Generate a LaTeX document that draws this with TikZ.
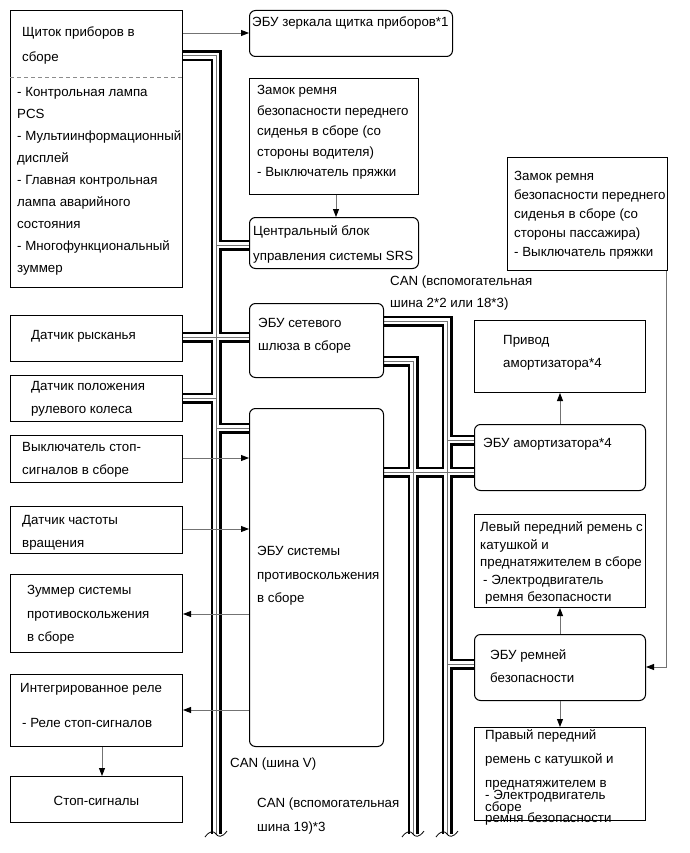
\documentclass[tikz,border=0pt]{standalone}
\usepackage{fontspec}
\setmainfont{Liberation Sans}
\usetikzlibrary{arrows.meta,backgrounds}
\newcommand\mystrut{\rule{0pt}{10.5pt}}
\newcommand\buspaths[1]{%
 \draw[#1] (shch.east |- 0,56) -- (216,56) -- (216,834);
 \draw[#1] (216,245) -- (srs.west |- 0,245);
 \draw[#1] (yaw.east |- 0,337) -- (gw.west |- 0,337);
 \draw[#1] (steer.east |- 0,398) -- (216,398);
 \draw[#1] (216,428) -- (abs.west |- 0,428);
 \draw[#1] (gw.east |- 0,321) -- (447,321) -- (447,834);
 \draw[#1] (447,440) -- (amort.west |- 0,440);
 \draw[#1] (447,664) -- (beltecu.west |- 0,664);
 \draw[#1] (gw.east |- 0,361) -- (413,361) -- (413,834);
 \draw[#1] (abs.east |- 0,472) -- (amort.west |- 0,472);
}
\newcommand\wavemark[1]{\draw[line width=0.8pt] (#1-11,837) .. controls (#1-6,830) and (#1-2,831) .. (#1,834) .. controls (#1+2,837) and (#1+6,838) .. (#1+11,831);}
\begin{document}
\begin{tikzpicture}[x=1pt,y=-1pt,
  box/.style={draw=black, line width=1pt, fill=white, anchor=north west, inner sep=0pt},
  rbox/.style={box, rounded corners=6pt},
  txt/.style={anchor=north west, inner sep=0pt, align=left, font=\fontsize{13.3}{#1}\selectfont},
  txt/.default=22,
  arr/.style={draw=black!55, line width=0.9pt, -{Triangle[length=8pt,width=6pt,color=black]}}
]
\useasboundingbox (0,0) rectangle (689,853);

% boxes
\node[box, minimum width=172pt, minimum height=277pt] (shch) at (10,10) {};
\node[rbox, minimum width=203pt, minimum height=46pt] (mirror) at (249,10) {};
\node[box, minimum width=169pt, minimum height=116pt] (buckD) at (249,78) {};
\node[rbox, minimum width=169pt, minimum height=51pt] (srs) at (249,217) {};
\node[box, minimum width=160pt, minimum height=113pt] (buckP) at (507,157) {};
\node[rbox, minimum width=134pt, minimum height=74pt] (gw) at (249,303) {};
\node[box, minimum width=171pt, minimum height=72pt] (privod) at (474,320) {};
\node[rbox, minimum width=171pt, minimum height=66pt] (amort) at (474,424) {};
\node[box, minimum width=171pt, minimum height=93pt] (lbelt) at (474,514) {};
\node[rbox, minimum width=171pt, minimum height=66pt] (beltecu) at (474,634) {};
\node[box, minimum width=171pt, minimum height=93pt] (rbelt) at (474,727) {};
\node[box, minimum width=172pt, minimum height=46pt] (yaw) at (10,315) {};
\node[box, minimum width=172pt, minimum height=46pt] (steer) at (10,375) {};
\node[box, minimum width=172pt, minimum height=47pt] (stopsw) at (10,435) {};
\node[box, minimum width=172pt, minimum height=47pt] (speed) at (10,506) {};
\node[box, minimum width=172pt, minimum height=78pt] (buzz) at (10,574) {};
\node[box, minimum width=172pt, minimum height=72pt] (relay) at (10,674) {};
\node[box, minimum width=172pt, minimum height=46pt] (stop) at (10,776) {};
\node[rbox, minimum width=134pt, minimum height=338pt] (abs) at (249,408) {};

\draw[black!45, dashed, dash pattern=on 4pt off 3pt, line width=0.8pt] (shch.west |- 0,77) -- (shch.east |- 0,77);

% bus
\begin{pgfonlayer}{background}
\fill[white] (0,0) rectangle (689,853);
\buspaths{black, line width=11pt, line join=miter}
\buspaths{white, line width=6.6pt, line join=miter}
\buspaths{black!55, line width=1pt, line join=miter}
\end{pgfonlayer}
\wavemark{216}
\wavemark{413}
\wavemark{447}

% arrows
\draw[arr] (shch.east |- 0,33) -- (mirror.west |- 0,33);
\draw[arr] (buckD.south -| 336,0) -- (srs.north -| 336,0);
\draw[arr] (amort.north -| 560,0) -- (privod.south -| 560,0);
\draw[arr] ([xshift=-2pt]buckP.south east) |- (beltecu.east |- 0,667);
\draw[arr] (beltecu.north -| 560,0) -- (lbelt.south -| 560,0);
\draw[arr] (beltecu.south -| 560,0) -- (rbelt.north -| 560,0);
\draw[arr] (stopsw.east |- 0,458) -- (abs.west |- 0,458);
\draw[arr] (speed.east |- 0,529) -- (abs.west |- 0,529);
\draw[arr] (abs.west |- 0,614) -- (buzz.east |- 0,614);
\draw[arr] (abs.west |- 0,710) -- (relay.east |- 0,710);
\draw[arr] (relay.south -| 102,0) -- (stop.north -| 102,0);

% texts
\node[txt=25] (tshch1) at (22,26) {\mystrut Щиток приборов в\\сборе};
\node[txt=22] (tshch2) at (17,86) {\mystrut - Контрольная лампа\\PCS\\- Мультиинформационный\\дисплей\\- Главная контрольная\\лампа аварийного\\состояния\\- Многофункциональный\\зуммер};
\node[txt] (tmirror) at (252,16) {\mystrut ЭБУ зеркала щитка приборов*1};
\node[txt=20.5] (tbuckD) at (257,84) {\mystrut Замок ремня\\безопасности переднего\\сиденья в сборе (со\\стороны водителя)\\- Выключатель пряжки};
\node[txt=25] (tsrs) at (253,225) {\mystrut Центральный блок\\управления системы SRS};
\node[txt=19] (tbuckP) at (514,170) {\mystrut Замок ремня\\безопасности переднего\\сиденья в сборе (со\\стороны пассажира)\\- Выключатель пряжки};
\node[txt=22] (tcan1) at (390,275) {\mystrut CAN (вспомогательная\\шина 2*2 или 18*3)};
\node[txt=23] (tgw) at (258,317) {\mystrut ЭБУ сетевого\\шлюза в сборе};
\node[txt=23] (tprivod) at (503,334) {\mystrut Привод\\амортизатора*4};
\node[txt] (tamort) at (483,437) {\mystrut ЭБУ амортизатора*4};
\node[txt=17.5] (tlbelt) at (480,521) {\mystrut Левый передний ремень с\\катушкой и\\преднатяжителем в сборе\\\hspace*{3pt}- Электродвигатель\\\hspace*{5pt}ремня безопасности};
\node[txt=23] (tbeltecu) at (490,649) {\mystrut ЭБУ ремней\\безопасности};
\node[txt=24] (trbelt1) at (485,729) {\mystrut Правый передний\\ремень с катушкой и\\преднатяжителем в\\сборе};
\node[txt=23] (trbelt2) at (485,789) {\mystrut - Электродвигатель\\ремня безопасности};
\node[txt] (tyaw) at (31,329) {\mystrut Датчик рысканья};
\node[txt=23] (tsteer) at (31,380) {\mystrut Датчик положения\\рулевого колеса};
\node[txt=23] (tstopsw) at (22,441) {\mystrut Выключатель стоп-\\сигналов в сборе};
\node[txt=23] (tspeed) at (22,514) {\mystrut Датчик частоты\\вращения};
\node[txt=23.5] (tbuzz) at (27,584) {\mystrut Зуммер системы\\противоскольжения\\в сборе};
\node[txt=35] (trelay) at (20,682) {\mystrut Интегрированное реле\\\hspace*{2pt}- Реле стоп-сигналов};
\node[inner sep=0pt, font=\fontsize{13.3}{16}\selectfont] (tstop) at ([yshift=-1pt]stop.center) {Стоп-сигналы};
\node[txt=23.5] (tabs) at (257,545) {\mystrut ЭБУ системы\\противоскольжения\\в сборе};
\node[txt] (tcanv) at (230,757) {\mystrut CAN (шина V)};
\node[txt=24] (tcan19) at (257,797) {\mystrut CAN (вспомогательная\\шина 19)*3};
\end{tikzpicture}
\end{document}
